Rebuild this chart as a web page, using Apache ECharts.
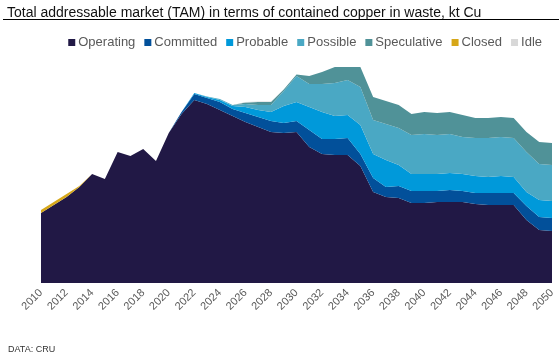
<!DOCTYPE html>
<html>
<head>
<meta charset="utf-8">
<script src="https://cdn.jsdelivr.net/npm/echarts@6/dist/echarts.min.js"></script>
<style>
html,body{margin:0;padding:0;background:#fff;}
#chart{width:559px;height:358px;}
</style>
</head>
<body>
<div id="chart"></div>
<script>
const years = [];
for (let y = 2010; y <= 2050; y++) years.push(String(y));

const operating = [700,780,860,960,1090,1040,1310,1270,1340,1220,
  1500,1690,1830,1790,1730,1670,1610,1560,1510,1500,
  1510,1360,1290,1280,1280,1170,910,860,850,800,
  800,810,810,810,790,780,780,780,630,530,520];
const committed = [0,0,0,0,0,0,0,0,0,0,
  0,20,60,60,80,70,90,100,110,100,
  110,170,150,160,170,120,140,100,120,120,
  120,110,120,110,110,120,120,120,140,130,130];
const probable = [0,0,0,0,0,0,0,0,0,0,
  0,0,10,10,20,30,60,70,90,170,
  190,230,270,230,230,290,240,270,210,170,
  170,170,170,170,170,160,170,160,140,170,170];
const possible = [0,0,0,0,0,0,0,0,0,0,
  0,0,0,5,10,10,30,50,70,150,
  260,230,280,330,350,380,340,360,370,390,
  400,390,390,370,380,390,390,390,400,360,360];
const speculative = [0,0,0,0,0,0,0,0,0,0,
  0,0,0,0,0,0,15,30,30,15,
  15,80,120,160,130,200,230,230,230,210,
  220,220,220,220,200,200,200,200,200,220,220];
const closed = [30,30,30,10,0,0,0,0,0,0,
  0,0,0,0,0,0,0,0,0,0,
  0,0,0,0,0,0,0,0,0,0,
  0,0,0,0,0,0,0,0,0,0,0];
const idle = [0,0,0,0,0,0,0,0,0,0,
  0,0,0,0,0,0,5,5,5,0,
  0,0,0,0,0,0,0,0,0,0,
  0,0,0,0,0,0,0,0,0,0,0];

const seriesNames = ['Operating','Committed','Probable','Possible','Speculative','Closed','Idle'];
const seriesData = [operating, committed, probable, possible, speculative, closed, idle];
const colors = ['#211845','#02509A','#0099DA','#4AA8C4','#509298','#D6A719','#D8D8D8'];

const chart = echarts.init(document.getElementById('chart'));
chart.setOption({
  animation: false,
  color: colors,
  title: [
    {text: 'Total addressable market (TAM) in terms of contained copper in waste, kt Cu',
     left: 2, top: 1,
     textStyle: {fontFamily: 'Liberation Sans, Arial', fontSize: 14, fontWeight: 'normal', color: '#111'}},
    {text: 'DATA: CRU', left: 3, top: 340,
     textStyle: {fontFamily: 'Liberation Sans, Arial', fontSize: 9, fontWeight: 'normal', color: '#333'}}
  ],
  graphic: [{
    type: 'line', shape: {x1: 3, y1: 19.5, x2: 559, y2: 19.5},
    style: {stroke: '#000', lineWidth: 1}
  }],
  legend: {
    data: seriesNames,
    right: 12, top: 31,
    icon: 'rect', itemWidth: 7, itemHeight: 7, itemGap: 9,
    textStyle: {fontFamily: 'Liberation Sans, Arial', fontSize: 13, color: '#595959', padding: [0,0,0,-2]}
  },
  grid: {left: 41, right: 7, top: 63, bottom: 75},
  xAxis: {
    type: 'category', data: years, boundaryGap: false,
    axisLine: {show: false}, axisTick: {show: false},
    axisLabel: {interval: 1, rotate: 45, margin: 8, fontSize: 11,
      fontFamily: 'Liberation Sans, Arial', color: '#595959'}
  },
  yAxis: {type: 'value', min: 0, max: 2200, show: false, splitLine: {show: false}},
  series: seriesNames.map((n, i) => ({
    name: n, type: 'line', stack: 'total', data: seriesData[i],
    symbol: 'none', lineStyle: {width: 0}, areaStyle: {color: colors[i], opacity: 1},
    emphasis: {disabled: true}
  }))
});
</script>
</body>
</html>
